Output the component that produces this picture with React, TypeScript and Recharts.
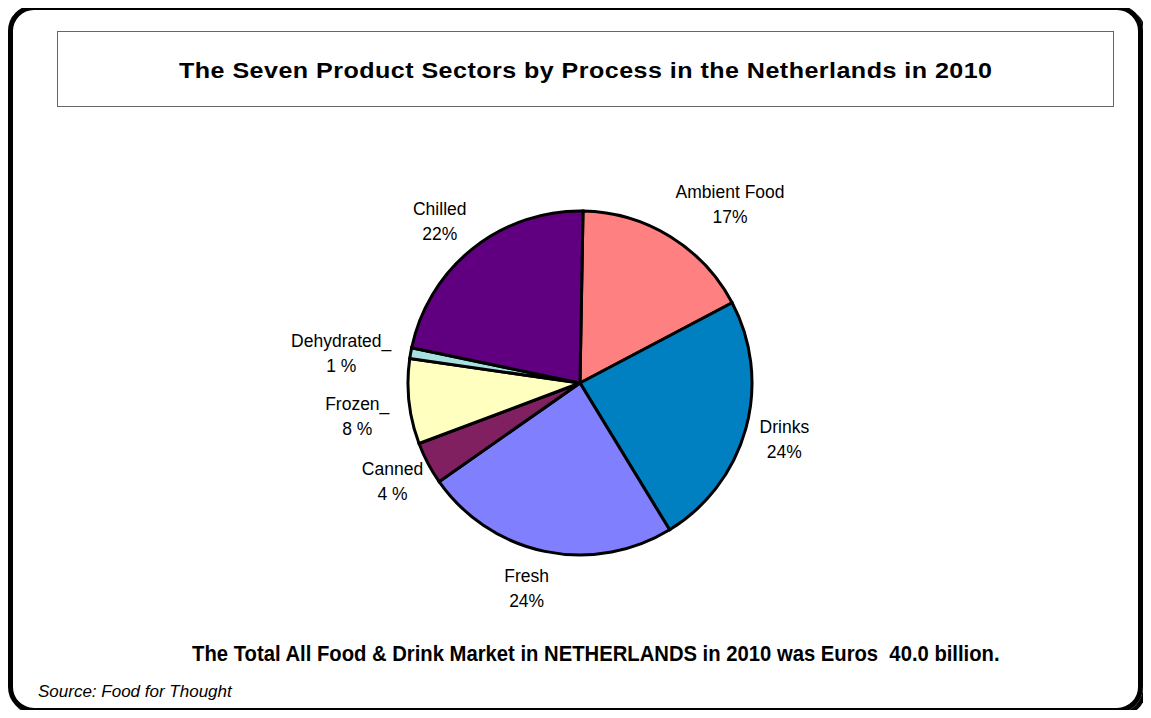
import React from 'react';
import { PieChart, Pie, Cell } from 'recharts';

// sector names, shares (%) and the label text as printed
const sectors = ['Ambient Food', 'Drinks', 'Fresh', 'Canned', 'Frozen', 'Dehydrated', 'Chilled'];
const shares = [17, 24, 24, 4, 8, 1, 22];
const pctLabels = ['17%', '24%', '24%', '4 %', '8 %', '1 %', '22%'];
const nameLabels = ['Ambient Food', 'Drinks', 'Fresh', 'Canned', 'Frozen_', 'Dehydrated_', 'Chilled'];
const colors = ['#FF8080', '#0080C0', '#8080FF', '#802060', '#FFFFC0', '#A6E0E0', '#600080'];

const TITLE = 'The Seven Product Sectors by Process in the Netherlands in 2010';
const FOOTER = 'The Total All Food & Drink Market in NETHERLANDS in 2010 was Euros  40.0 billion.';
const SOURCE = 'Source: Food for Thought';

const pieData = sectors.map((name, i) => ({ name, value: shares[i] }));

// label nudges, Excel lets the user drag labels around
const nudge: Record<string, [number, number]> = {
  'Ambient Food': [39, 2],
  Fresh: [-10, -2],
  Frozen: [-12, 11],
  Dehydrated: [-30, 7],
  Chilled: [-8, 4],
};

const RADIAN = Math.PI / 180;
const font = '"Liberation Sans", Arial, sans-serif';

const renderLabel = (props: any) => {
  const { cx, cy, midAngle, outerRadius, index } = props;
  const r = outerRadius + 40;
  const [dx, dy] = nudge[sectors[index]] || [0, 0];
  const x = cx + r * Math.cos(-midAngle * RADIAN) + dx;
  const y = cy + r * Math.sin(-midAngle * RADIAN) + dy;
  return (
    <text x={x} y={y} textAnchor="middle" fontFamily={font} fontSize={17.5} fill="#000">
      <tspan x={x} y={y - 12.5} dominantBaseline="central">{nameLabels[index]}</tspan>
      <tspan x={x} y={y + 12.5} dominantBaseline="central">{pctLabels[index]}</tspan>
    </text>
  );
};

const App: React.FC = () => {
  return (
    <div style={{ position: 'relative', width: 1151, height: 718, margin: -8, background: '#fff', fontFamily: font }}>
      {/* outer frame */}
      <div
        style={{
          position: 'absolute', left: 8, top: 5, width: 1125, height: 698,
          border: '5px solid #000', borderRadius: 26, boxShadow: '3px 3px 0 0 #000',
        }}
      />
      {/* title box */}
      <div
        style={{
          position: 'absolute', left: 57, top: 31, width: 1055, height: 74,
          border: '1px solid #666', display: 'flex', alignItems: 'center', justifyContent: 'center',
          fontWeight: 'bold', fontSize: 22, letterSpacing: 0.4,
        }}
      >
        <span style={{ display: 'inline-block', position: 'relative', top: 2, transform: 'scaleX(1.14)', whiteSpace: 'pre' }}>
          {TITLE}
        </span>
      </div>

      <div style={{ position: 'absolute', left: 0, top: 0 }}>
        <PieChart width={1151} height={718} margin={{ top: 0, right: 0, bottom: 0, left: 0 }}>
          <Pie
            data={pieData}
            dataKey="value"
            cx={580}
            cy={383}
            outerRadius={172}
            startAngle={89}
            endAngle={-271}
            stroke="#000"
            strokeWidth={3}
            label={renderLabel}
            labelLine={false}
            isAnimationActive={false}
          >
            {pieData.map((d, i) => (
              <Cell key={d.name} fill={colors[i]} />
            ))}
          </Pie>
        </PieChart>
      </div>

      <div
        style={{
          position: 'absolute', left: 0, width: 1192, top: 641, textAlign: 'center',
          fontWeight: 'bold', fontSize: 22,
        }}
      >
        <span style={{ display: 'inline-block', transform: 'scaleX(0.92)', whiteSpace: 'pre' }}>{FOOTER}</span>
      </div>
      <div style={{ position: 'absolute', left: 38, top: 682, fontStyle: 'italic', fontSize: 17 }}>
        {SOURCE}
      </div>
    </div>
  );
};

export default App;
